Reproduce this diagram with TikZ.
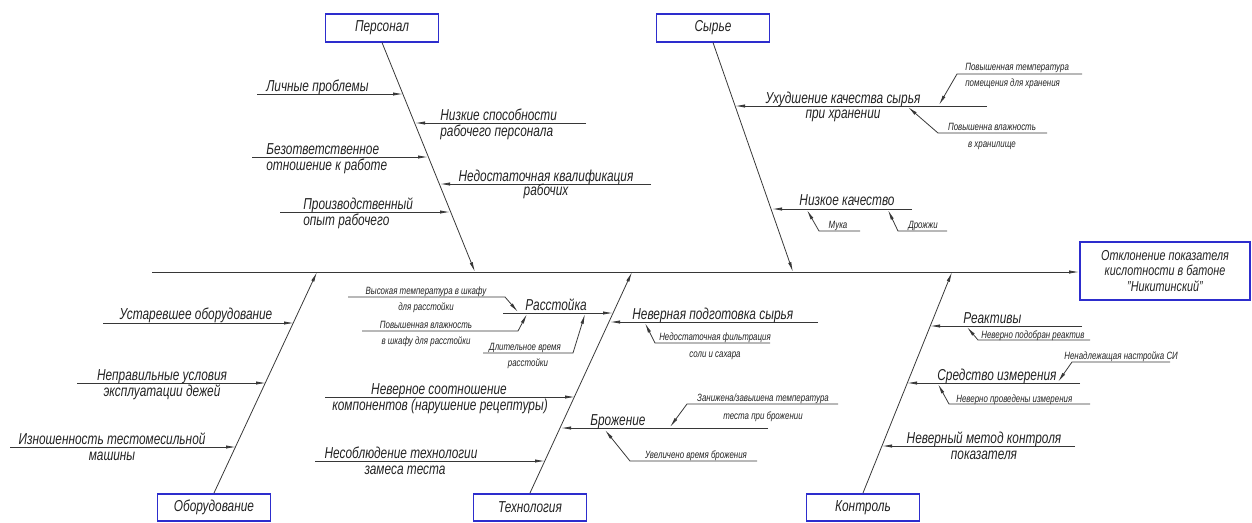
\documentclass[tikz,border=0pt]{standalone}
\usepackage{fontspec}
\setmainfont{Liberation Sans}[FakeStretch=0.75]
\usetikzlibrary{arrows.meta}
\definecolor{boxblue}{RGB}{45,45,205}
\definecolor{lncol}{RGB}{55,55,55}
\definecolor{txtcol}{RGB}{35,35,35}
\newcommand\fM{\fontsize{9}{10}\selectfont\itshape}
\newcommand\fS{\fontsize{6}{7}\selectfont\itshape}
\newcommand\fE{\fontsize{8.2}{8.6}\selectfont\itshape}
\begin{document}
\begin{tikzpicture}[x=0.02cm,y=-0.02cm,
  ln/.style={draw=lncol, line width=0.45pt},
  arr/.style={ln, -{Latex[length=2mm,width=0.65mm]}},
  catbox/.style={draw=boxblue, line width=0.9pt, minimum width=2.26cm, minimum height=0.55cm, inner sep=0pt, font=\fM, text=txtcol},
  tm/.style={font=\fM, inner sep=0pt, text=txtcol},
  ts/.style={font=\fS, inner sep=0pt, text=txtcol}]
\useasboundingbox (0,0) rectangle (1252,522);

% category boxes and effect box
\node[catbox] (per) at (382,28) {Персонал};
\node[catbox] (syr) at (713,28) {Сырье};
\node[catbox] (obo) at (214,507.5) {Оборудование};
\node[catbox] (teh) at (530,507.5) {Технология};
\node[catbox] (kon) at (863,507.5) {Контроль};
\node[draw=boxblue, line width=0.9pt, minimum width=3.4cm, minimum height=1.16cm, align=center, inner sep=0pt, font=\fE, text=txtcol] (eff) at (1165,271) {Отклонение показателя\\кислотности в батоне\\"Никитинский"};

% spine
\coordinate (sp0) at (152,272);
\draw[arr] (sp0) -- (sp0 -| eff.west);

% bones
\coordinate (perB) at (475,272);
\coordinate (syrB) at (793,272);
\coordinate (oboB) at (317,272);
\coordinate (tehB) at (632,272);
\coordinate (konB) at (952,272);
\draw[arr] (per.south) -- (perB);
\draw[arr] (syr.south) -- (syrB);
\draw[arr] (obo.north) -- (oboB);
\draw[arr] (teh.north) -- (tehB);
\draw[arr] (kon.north) -- (konB);

% ---------- Персонал ----------
\coordinate (b1s) at (257,94);  \coordinate (b1t) at (403,94);  \draw[arr] (b1s) -- (b1t);
\coordinate (b2s) at (252,157); \coordinate (b2t) at (428,157); \draw[arr] (b2s) -- (b2t);
\coordinate (b3s) at (280,212); \coordinate (b3t) at (450,212); \draw[arr] (b3s) -- (b3t);
\coordinate (b4s) at (586,123); \coordinate (b4t) at (415,123); \draw[arr] (b4s) -- (b4t);
\coordinate (b5s) at (651,184); \coordinate (b5t) at (440,184); \draw[arr] (b5s) -- (b5t);
\node[tm, anchor=base west] (t1) at (266,91) {Личные проблемы};
\node[tm, anchor=base west] (t2a) at (266,154) {Безответственное};
\node[tm, anchor=base west] (t2b) at (266,170) {отношение к работе};
\node[tm, anchor=base west] (t3a) at (303,209) {Производственный};
\node[tm, anchor=base west] (t3b) at (303,225) {опыт рабочего};
\node[tm, anchor=base west] (t4a) at (440,120) {Низкие способности};
\node[tm, anchor=base west] (t4b) at (440,136) {рабочего персонала};
\node[tm, anchor=base] (t5a) at (546,181) {Недостаточная квалификация};
\node[tm, anchor=base] (t5b) at (546,195) {рабочих};

% ---------- Сырье ----------
\coordinate (b6s) at (987,106); \coordinate (b6t) at (735,106); \draw[arr] (b6s) -- (b6t);
\coordinate (b7s) at (912,209); \coordinate (b7t) at (772,209); \draw[arr] (b7s) -- (b7t);
\node[tm, anchor=base] (t6a) at (843,103) {Ухудшение качества сырья};
\node[tm, anchor=base] (t6b) at (843,118) {при хранении};
\node[tm, anchor=base] (t7) at (847,205) {Низкое качество};
\coordinate (s6ae) at (1082,74); \coordinate (s6ak) at (957,74); \coordinate (s6at) at (939,105);
\draw[arr] (s6ae) -- (s6ak) -- (s6at);
\node[ts, anchor=base west] (s6a1) at (965,70) {Повышенная температура};
\node[ts, anchor=base west] (s6a2) at (965,86) {помещения для хранения};
\coordinate (s6be) at (1047,133); \coordinate (s6bk) at (938,133); \coordinate (s6bt) at (908,107);
\draw[arr] (s6be) -- (s6bk) -- (s6bt);
\node[ts, anchor=base] (s6b1) at (992,130) {Повышенна влажность};
\node[ts, anchor=base] (s6b2) at (992,147) {в хранилище};
\coordinate (s7ae) at (860,231); \coordinate (s7ak) at (819,231); \coordinate (s7at) at (807,210);
\draw[arr] (s7ae) -- (s7ak) -- (s7at);
\node[ts, anchor=base] (s7a) at (838,228) {Мука};
\coordinate (s7be) at (947,231); \coordinate (s7bk) at (898,231); \coordinate (s7bt) at (888,210);
\draw[arr] (s7be) -- (s7bk) -- (s7bt);
\node[ts, anchor=base] (s7b) at (923,228) {Дрожжи};

% ---------- Оборудование ----------
\coordinate (b8s) at (103,323);  \coordinate (b8t) at (294,323);  \draw[arr] (b8s) -- (b8t);
\coordinate (b9s) at (77,383);   \coordinate (b9t) at (266,383);  \draw[arr] (b9s) -- (b9t);
\coordinate (b10s) at (10,447);  \coordinate (b10t) at (236,447); \draw[arr] (b10s) -- (b10t);
\node[tm, anchor=base] (t8) at (196,319) {Устаревшее оборудование};
\node[tm, anchor=base] (t9a) at (162,380) {Неправильные условия};
\node[tm, anchor=base] (t9b) at (162,396) {эксплуатации дежей};
\node[tm, anchor=base] (t10a) at (112,444) {Изношенность тестомесильной};
\node[tm, anchor=base] (t10b) at (112,460) {машины};

% ---------- Технология ----------
\coordinate (b11s) at (503,313); \coordinate (b11t) at (613,313); \draw[arr] (b11s) -- (b11t);
\coordinate (b12s) at (325,397); \coordinate (b12t) at (575,397); \draw[arr] (b12s) -- (b12t);
\coordinate (b13s) at (315,461); \coordinate (b13t) at (545,461); \draw[arr] (b13s) -- (b13t);
\coordinate (b14s) at (818,322); \coordinate (b14t) at (610,322); \draw[arr] (b14s) -- (b14t);
\coordinate (b15s) at (768,428); \coordinate (b15t) at (561,428); \draw[arr] (b15s) -- (b15t);
\node[tm, anchor=base] (t11) at (556,310) {Расстойка};
\node[tm, anchor=base] (t12a) at (439,394) {Неверное соотношение};
\node[tm, anchor=base] (t12b) at (440,410) {компонентов (нарушение рецептуры)};
\node[tm, anchor=base] (t13a) at (401,458) {Несоблюдение технологии};
\node[tm, anchor=base] (t13b) at (405,474) {замеса теста};
\node[tm, anchor=base west] (t14) at (632,319) {Неверная подготовка сырья};
\node[tm, anchor=base west] (t15) at (590,425) {Брожение};
\coordinate (s11as) at (348,297); \coordinate (s11ak) at (505,297); \coordinate (s11at) at (518,312);
\draw[arr] (s11as) -- (s11ak) -- (s11at);
\node[ts, anchor=base] (s11a1) at (426,294) {Высокая температура в шкафу};
\node[ts, anchor=base] (s11a2) at (426,310) {для расстойки};
\coordinate (s11bs) at (362,331); \coordinate (s11bk) at (518,331); \coordinate (s11bt) at (527,314);
\draw[arr] (s11bs) -- (s11bk) -- (s11bt);
\node[ts, anchor=base] (s11b1) at (426,328) {Повышенная влажность};
\node[ts, anchor=base] (s11b2) at (426,344) {в шкафу для расстойки};
\coordinate (s11cs) at (483,353); \coordinate (s11ck) at (573,353); \coordinate (s11ct) at (585,314);
\draw[arr] (s11cs) -- (s11ck) -- (s11ct);
\node[ts, anchor=base] (s11c1) at (525,350) {Длительное время};
\node[ts, anchor=base] (s11c2) at (528,366) {расстойки};
\coordinate (s14ae) at (770,343); \coordinate (s14ak) at (655,343); \coordinate (s14at) at (645,323);
\draw[arr] (s14ae) -- (s14ak) -- (s14at);
\node[ts, anchor=base] (s14a1) at (715,340) {Недостаточная фильтрация};
\node[ts, anchor=base] (s14a2) at (715,357) {соли и сахара};
\coordinate (s15ae) at (838,404); \coordinate (s15ak) at (687,404); \coordinate (s15at) at (670,427);
\draw[arr] (s15ae) -- (s15ak) -- (s15at);
\node[ts, anchor=base] (s15a1) at (763,401) {Занижена/завышена температура};
\node[ts, anchor=base] (s15a2) at (763,419) {теста при брожении};
\coordinate (s15be) at (757,461); \coordinate (s15bk) at (630,461); \coordinate (s15bt) at (605,430);
\draw[arr] (s15be) -- (s15bk) -- (s15bt);
\node[ts, anchor=base] (s15b) at (696,458) {Увеличено время брожения};

% ---------- Контроль ----------
\coordinate (b16s) at (1082,326); \coordinate (b16t) at (930,326); \draw[arr] (b16s) -- (b16t);
\coordinate (b17s) at (1080,383); \coordinate (b17t) at (907,383); \draw[arr] (b17s) -- (b17t);
\coordinate (b18s) at (1075,446); \coordinate (b18t) at (882,446); \draw[arr] (b18s) -- (b18t);
\node[tm, anchor=base west] (t16) at (963,323) {Реактивы};
\node[tm, anchor=base west] (t17) at (937,380) {Средство измерения};
\node[tm, anchor=base] (t18a) at (984,443) {Неверный метод контроля};
\node[tm, anchor=base] (t18b) at (984,459) {показателя};
\coordinate (s16ae) at (1090,340); \coordinate (s16ak) at (978,340); \coordinate (s16at) at (967,327);
\draw[arr] (s16ae) -- (s16ak) -- (s16at);
\node[ts, anchor=base west] (s16a) at (981,338) {Неверно подобран реактив};
\coordinate (s17ae) at (1170,362); \coordinate (s17ak) at (1072,362); \coordinate (s17at) at (1058,382);
\draw[arr] (s17ae) -- (s17ak) -- (s17at);
\node[ts, anchor=base west] (s17a) at (1064,359) {Ненадлежащая настройка СИ};
\coordinate (s17be) at (1090,404); \coordinate (s17bk) at (949,404); \coordinate (s17bt) at (938,384);
\draw[arr] (s17be) -- (s17bk) -- (s17bt);
\node[ts, anchor=base west] (s17b) at (956,402) {Неверно проведены измерения};
\end{tikzpicture}
\end{document}
